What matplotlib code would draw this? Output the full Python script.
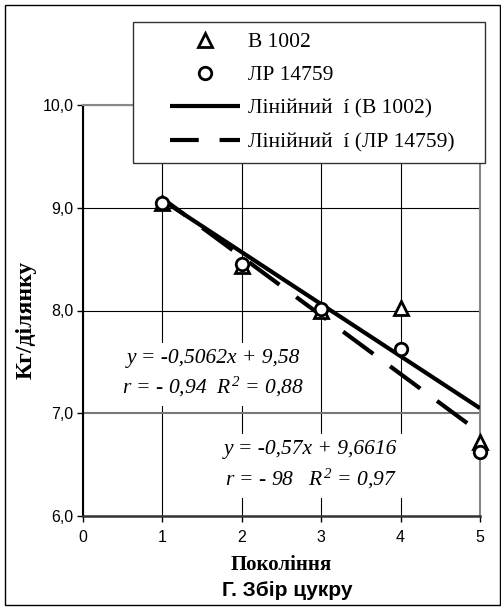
import numpy as np
import matplotlib
matplotlib.use("Agg")
import matplotlib.pyplot as plt
from matplotlib.patches import Rectangle

# === DATA ===
generations = [1, 2, 3, 4, 5]
v1002 = [9.05, 8.43, 8.00, 8.02, 6.72]       # В 1002 (triangles)
lp14759 = [9.05, 8.45, 8.01, 7.63, 6.62]     # ЛР 14759 (circles)

# trend line coefficients as printed on the chart
fit_v1002 = [-0.5062, 9.58]
fit_lp = [-0.57, 9.6616]
trend_x = [1, 5]

x_ticks = [0, 1, 2, 3, 4, 5]
y_ticks = [6.0, 7.0, 8.0, 9.0, 10.0]
y_tick_labels = ['6,0', '7,0', '8,0', '9,0', '10,0']

plt.rcParams['mathtext.fontset'] = 'custom'
plt.rcParams['mathtext.it'] = 'Liberation Serif:italic'
plt.rcParams['mathtext.rm'] = 'Liberation Serif:italic'

serif = ['Liberation Serif', 'DejaVu Serif']
sans = ['Liberation Sans', 'DejaVu Sans']

W, H = 502, 610
fig = plt.figure(figsize=(W / 100, H / 100), dpi=100)
ax = fig.add_axes([83 / W, 1 - 516 / H, 397 / W, 411 / H])

# outer frame
fig.patches.append(Rectangle((5 / W, 5 / H), 495 / W, 600 / H,
                             transform=fig.transFigure, fill=False,
                             edgecolor='black', linewidth=1.0))

#trend lines
tx = np.array(trend_x, dtype=float)
ax.plot(tx, fit_v1002[0] * tx + fit_v1002[1], color='black', lw=3,
        solid_capstyle='butt', label='Лінійний  í (В 1002)', zorder=3)
ax.plot(tx, fit_lp[0] * tx + fit_lp[1], color='black', lw=3,
        linestyle=(2.1, (9, 5)), dash_capstyle='butt',
        label='Лінійний  í (ЛР 14759)', zorder=3)

#data points
ax.plot(generations, v1002, linestyle='none', marker='^', markersize=10,
        markerfacecolor='white', markeredgecolor='black', mew=2,
        label='В 1002', zorder=4, clip_on=False)
ax.plot(generations, lp14759, linestyle='none', marker='o', markersize=9,
        markerfacecolor='white', markeredgecolor='black', mew=2,
        label='ЛР 14759', zorder=5, clip_on=False)

ax.set_xlim(0, 5)
ax.set_ylim(6, 10)
ax.set_xticks(x_ticks)
ax.set_xticklabels([str(t) for t in x_ticks], fontfamily=sans, fontsize=11.5)
ax.set_yticks(y_ticks)
ax.set_yticklabels(y_tick_labels, fontfamily=sans, fontsize=11.5)
ax.tick_params(axis='x', length=4, width=1, direction='out', pad=6)
ax.tick_params(axis='y', length=4, width=1, direction='out', pad=3)

ax.grid(True, color='black', lw=0.8, zorder=0)
ax.set_axisbelow(True)
ax.get_ygridlines()[1].set_color('#777777')
ax.get_ygridlines()[1].set_linewidth(1.5)
ax.spines['left'].set_linewidth(1.5)
ax.spines['left'].set_color('black')
ax.spines['bottom'].set_linewidth(1.8)
ax.spines['bottom'].set_color('#333333')
for s in ['top', 'right']:
    ax.spines[s].set_linewidth(1.5)
    ax.spines[s].set_color('#888888')

# axis titles
fig.text(26 / W, 1 - 320 / H, 'Кг/ділянку', family=serif, fontweight='bold',
         fontsize=17, rotation=90, ha='center', va='center')
fig.text(281 / W, 1 - 565 / H, 'Покоління', family=serif, fontweight='bold',
         fontsize=15, ha='center', va='center')
fig.text(287 / W, 1 - 590 / H, 'Г. Збір цукру', family=sans, fontweight='bold',
         fontsize=15, ha='center', va='center')

# equations
ax.text(1.64, 7.38,
        'y = -0,5062x + 9,58\n' + r'r = - 0,94  $R^{2}$ = 0,88',
        family=serif, style='italic', fontsize=15.5, ha='center', va='center',
        linespacing=1.4, bbox=dict(facecolor='white', edgecolor='none', pad=5), zorder=2)
ax.text(2.87, 6.49,
        'y = -0,57x + 9,6616\n' + r'r = - 98   $R^{2}$ = 0,97',
        family=serif, style='italic', fontsize=15.5, ha='center', va='center',
        linespacing=1.4, bbox=dict(facecolor='white', edgecolor='none', pad=5), zorder=2)

# legend: frame drawn separately so it matches the reference box
fig.patches.append(Rectangle((133 / W, 1 - 163 / H), 352 / W, 141 / H,
                             transform=fig.transFigure, facecolor='white',
                             edgecolor='#333333', linewidth=1.0, zorder=5))
handles, labels = ax.get_legend_handles_labels()
order = [2, 3, 0, 1]
leg = fig.legend([handles[i] for i in order], [labels[i] for i in order],
                 loc='upper left', bbox_to_anchor=(170 / W, 1 - 32 / H),
                 prop={'family': serif, 'size': 15.5}, frameon=False,
                 handlelength=3.25, handletextpad=0.37,
                 numpoints=1, borderpad=0, labelspacing=0.62, borderaxespad=0)
leg.set_zorder(6)

fig.savefig('out.png', dpi=100)
